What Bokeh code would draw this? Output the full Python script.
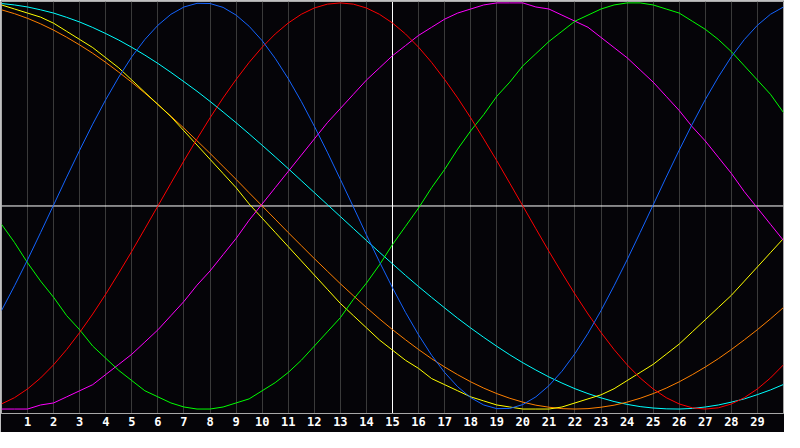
from bokeh.plotting import figure
from bokeh.models import Range1d, FixedTicker, Span
from bokeh.embed import file_html
from bokeh.resources import INLINE

# Day positions (half-day readings) and day tick labels
days = [i / 2 for i in range(61)]
tick_days = list(range(1, 30))

# Cycle values, in percent of full swing (-100 .. 100)
physical = [-51.5, -39.3, -26.5, -13.1, 0.5, 14.2, 27.5, 40.3, 52.4, 63.5, 73.5, 82, 89, 94.4, 98, 99.8,
            99.7, 97.8, 94, 88.5, 81.4, 72.7, 62.7, 51.5, 39.3, 26.5, 13.1, -0.5, -14.2, -27.5, -40.3,
            -52.4, -63.5, -73.5, -82, -89, -94.4, -98, -99.8, -99.7, -97.8, -94, -88.5, -81.4, -72.7,
            -62.7, -51.5, -39.3, -26.5, -13.1, 0.5, 14.2, 27.5, 40.3, 52.4, 63.5, 73.5, 82, 89, 94.4, 98]
emotional = [-97.5, -94.4, -90.1, -84.7, -78.2, -70.7, -62.3, -53.2, -43.4, -33, -22.3, -11.2, 0, 11.2,
             22.3, 33, 43.4, 53.2, 62.3, 70.7, 78.2, 84.7, 90.1, 94.4, 97.5, 99.4, 100, 99.4, 97.5, 94.4,
             90.1, 84.7, 78.2, 70.7, 62.3, 53.2, 43.4, 33, 22.3, 11.2, 0, -11.2, -22.3, -33, -43.4, -53.2,
             -62.3, -70.7, -78.2, -84.7, -90.1, -94.4, -97.5, -99.4, -100, -99.4, -97.5, -94.4, -90.1,
             -84.7, -78.2]
intellectual = [-9, -18, -28, -37, -45, -54, -61, -69, -75, -81, -86, -91, -94, -97, -99, -100, -100, -99,
                -97, -95, -91, -87, -82, -76, -69, -62, -55, -46, -38, -29, -19, -10, -1, 9, 18, 28, 37,
                45, 54, 61, 69, 75, 81, 86, 91, 94, 97, 99, 100, 100, 99, 97, 95, 91, 87, 82, 76, 69, 62,
                55, 46]
intuitive = [-100, -100, -100, -98, -97, -94, -91, -88, -83, -78, -73, -67, -61, -54, -47, -39, -32, -24,
             -16, -7, 1, 9, 17, 25, 33, 41, 48, 55, 62, 68, 74, 79, 84, 88, 92, 95, 97, 99, 100, 100, 100,
             98, 97, 94, 91, 88, 83, 78, 73, 67, 61, 54, 47, 39, 32, 24, 16, 7, -1, -9, -17]
aesthetic = [99, 97, 95, 93, 90, 86, 82, 78, 73, 68, 62, 56, 50, 44, 37, 30, 23, 16, 9, 1, -6, -13, -20,
             -27, -34, -41, -48, -54, -60, -66, -71, -76, -80, -85, -88, -91, -94, -96, -98, -99, -100,
             -100, -100, -99, -97, -95, -93, -90, -86, -82, -78, -73, -68, -62, -56, -50, -44, -37, -30,
             -23, -16]
awareness = [96.6, 94.7, 92.4, 89.7, 86.6, 83.1, 79.3, 75.2, 70.7, 65.9, 60.9, 55.6, 50, 44.2, 38.3, 32.1,
             25.9, 19.5, 13.1, 6.5, 0, -6.5, -13.1, -19.5, -25.9, -32.1, -38.3, -44.2, -50, -55.6, -60.9,
             -65.9, -70.7, -75.2, -79.3, -83.1, -86.6, -89.7, -92.4, -94.7, -96.6, -98.1, -99.1, -99.8,
             -100, -99.8, -99.1, -98.1, -96.6, -94.7, -92.4, -89.7, -86.6, -83.1, -79.3, -75.2, -70.7,
             -65.9, -60.9, -55.6, -50]
spiritual = [99.7, 99, 98, 96.6, 95, 92.9, 90.6, 87.9, 84.9, 81.7, 78.1, 74.3, 70.2, 65.8, 61.2, 56.5, 51.5,
             46.3, 41, 35.5, 29.9, 24.2, 18.4, 12.5, 6.6, 0.7, -5.2, -11.1, -17, -22.8, -28.5, -34.2,
             -39.7, -45, -50.2, -55.3, -60.1, -64.7, -69.1, -73.3, -77.2, -80.8, -84.2, -87.2, -90, -92.4,
             -94.5, -96.3, -97.7, -98.8, -99.5, -99.9, -100, -99.7, -99, -98, -96.6, -95, -92.9, -90.6,
             -87.9]

series = [
    (spiritual, "#00ffff"),
    (awareness, "#ff8000"),
    (aesthetic, "#ffff00"),
    (intuitive, "#ff00ff"),
    (intellectual, "#00ff00"),
    (emotional, "#ff0000"),
    (physical, "#1464ff"),
]

BG = "#050408"

p = figure(width=784, height=432, output_backend="svg", toolbar_location=None,
           x_range=Range1d(0, 30), y_range=Range1d(-102.2, 100.7),
           y_axis_location=None,
           min_border_left=1, min_border_right=1, min_border_top=1, min_border_bottom=19)
p.background_fill_color = BG
p.border_fill_color = BG
p.outline_line_color = "#a8a8a8"
p.outline_line_width = 1

ticker = FixedTicker(ticks=tick_days)
p.xaxis.ticker = ticker
p.xaxis.major_label_overrides = {d: str(d) for d in tick_days}
p.xaxis.axis_line_color = "#a8a8a8"
p.xaxis.major_tick_line_color = None
p.xaxis.minor_tick_line_color = None
p.xaxis.major_tick_out = 0
p.xaxis.major_tick_in = 0
p.xaxis.major_label_standoff = 3
p.xaxis.major_label_text_color = "white"
p.xaxis.major_label_text_font = "DejaVu Sans Mono"
p.xaxis.major_label_text_font_style = "bold"
p.xaxis.major_label_text_font_size = "12px"

p.xgrid.ticker = ticker
p.xgrid.grid_line_color = "#3a3a3a"
p.xgrid.grid_line_width = 1
p.ygrid.grid_line_color = None

p.add_layout(Span(location=0, dimension="width", line_color="white", line_width=1, level="underlay"))
p.add_layout(Span(location=15, dimension="height", line_color="white", line_width=1, level="underlay"))

for vals, color in series:
    p.line(days, vals, line_color=color, line_width=1)

open("out.html", "w").write(file_html(p, INLINE))
